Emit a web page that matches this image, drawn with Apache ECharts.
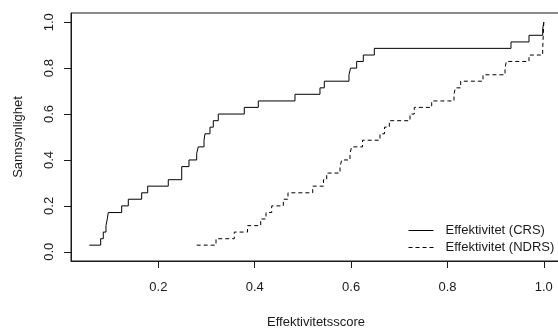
<!DOCTYPE html>
<html><head><meta charset="utf-8">
<script src="https://cdn.jsdelivr.net/npm/echarts@6/dist/echarts.min.js"></script>
<style>html,body{margin:0;padding:0;background:#fff}#c{width:558px;height:329px}</style>
</head><body><div id="c"></div>
<script>
const crsX = [0.0566,0.0802,0.0856,0.0912,0.0939,0.0960,0.1238,0.1375,0.1653,0.1778,0.2205,0.2484,0.2635,0.2795,0.2828,0.2947,0.2967,0.3071,0.3140,0.3243,0.3783,0.4074,0.4835,0.5354,0.5444,0.5956,0.5988,0.6116,0.6253,0.6482,0.9319,0.9693,0.9977,1.0];
const crsY = [0.029,0.057,0.086,0.114,0.143,0.171,0.2,0.229,0.257,0.286,0.314,0.371,0.4,0.429,0.457,0.486,0.514,0.543,0.571,0.6,0.629,0.657,0.686,0.714,0.743,0.771,0.8,0.829,0.857,0.886,0.914,0.943,0.971,1.0];
const ndrsX = [0.2795,0.3196,0.3575,0.3850,0.4124,0.4234,0.4352,0.4593,0.4690,0.5203,0.5427,0.5494,0.5770,0.5805,0.5977,0.6012,0.6237,0.6600,0.6693,0.6793,0.7223,0.7312,0.7673,0.8136,0.8163,0.8275,0.8738,0.9195,0.9222,0.9693,0.9977,1.0];
const ndrsY = [0.029,0.057,0.086,0.114,0.143,0.171,0.2,0.229,0.257,0.286,0.314,0.343,0.371,0.4,0.429,0.457,0.486,0.514,0.543,0.571,0.6,0.629,0.657,0.686,0.714,0.743,0.771,0.8,0.829,0.857,0.886,1.0];
const seriesNames = ['Effektivitet (CRS)', 'Effektivitet (NDRS)'];
const xTicks = [0.2, 0.4, 0.6, 0.8, 1.0];
const yTicks = [0.0, 0.2, 0.4, 0.6, 0.8, 1.0];
const xTitle = 'Effektivitetsscore';
const yTitle = 'Sannsynlighet';

const zip = (xs, ys) => xs.map((x, i) => [x, ys[i]]);
const font = "'Liberation Sans', Arial, sans-serif";
const ink = '#1a1a1a';

const chart = echarts.init(document.getElementById('c'), null, {renderer: 'canvas'});
chart.setOption({
  animation: false,
  grid: {left: 71, top: 13, right: -3, bottom: 68, show: true, borderColor: ink, borderWidth: 1,
         containLabel: false, outerBoundsMode: 'none'},
  xAxis: {
    type: 'value', min: 0.0186, max: 1.0357,
    name: xTitle, nameLocation: 'middle', nameGap: 55,
    nameTextStyle: {fontFamily: font, fontSize: 13, color: ink},
    axisLine: {show: true, onZero: false, lineStyle: {color: ink, width: 1}},
    splitLine: {show: false},
    axisTick: {show: true, inside: false, length: 7, customValues: xTicks, lineStyle: {color: ink}},
    axisLabel: {customValues: xTicks, formatter: v => v.toFixed(1), margin: 20, fontFamily: font, fontSize: 13, color: ink}
  },
  yAxis: {
    type: 'value', min: -0.04, max: 1.04,
    name: yTitle, nameLocation: 'middle', nameGap: 46, nameRotate: 90,
    nameTextStyle: {fontFamily: font, fontSize: 13, color: ink},
    axisLine: {show: true, onZero: false, lineStyle: {color: ink, width: 1}},
    splitLine: {show: false},
    axisTick: {show: true, inside: false, length: 7, customValues: yTicks, lineStyle: {color: ink}},
    axisLabel: {customValues: yTicks, formatter: v => v.toFixed(1), rotate: 90, margin: 15, fontFamily: font, fontSize: 13, color: ink}
  },
  legend: {
    data: seriesNames, orient: 'vertical', left: 408, top: 224, padding: 0,
    itemWidth: 25, itemHeight: 11, itemGap: 4,
    itemStyle: {opacity: 0},
    lineStyle: {width: 1},
    textStyle: {fontFamily: font, fontSize: 13, color: ink, padding: [0, 0, 0, 7]}
  },
  series: [
    {name: seriesNames[0], type: 'line', step: 'end', symbol: 'none', silent: true,
     data: zip(crsX, crsY), color: '#000', lineStyle: {color: '#000', width: 1, type: 'solid'}},
    {name: seriesNames[1], type: 'line', step: 'end', symbol: 'none', silent: true,
     data: zip(ndrsX, ndrsY), color: '#000', lineStyle: {color: '#000', width: 1, type: [4, 3]}}
  ]
});
</script>
</body></html>
